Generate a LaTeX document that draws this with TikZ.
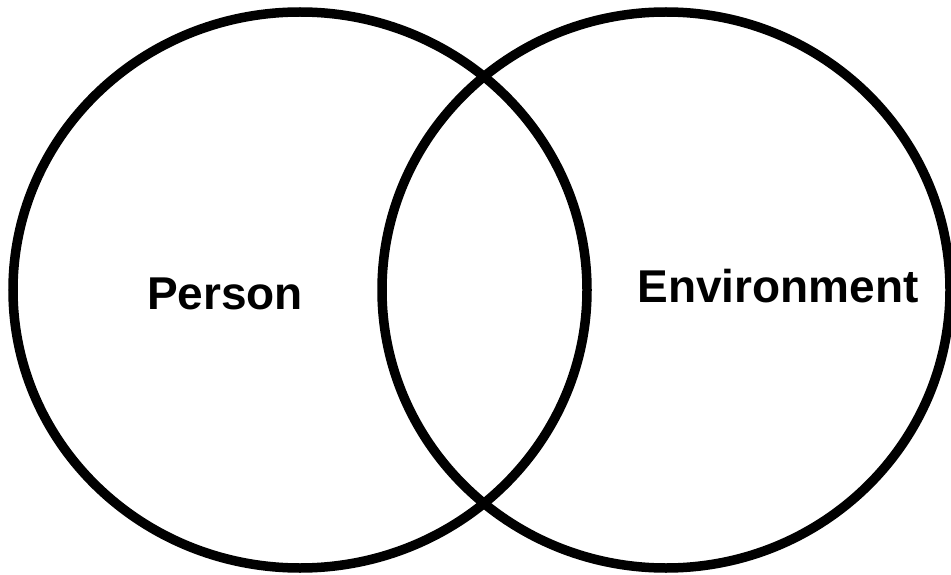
\documentclass[tikz,border=0pt]{standalone}
\usepackage{fontspec}
\setmainfont{Liberation Sans}
\begin{document}
\begin{tikzpicture}[x=1pt,y=-1pt,
  ring/.style={draw=black,line width=9.5pt},
  lbl/.style={font=\fontsize{46}{50}\selectfont\bfseries,inner sep=0pt,anchor=base}]
\useasboundingbox (0,0) rectangle (951,575);
\fill[white] (0,0) rectangle (951,575);
\draw[ring] (300,290) ellipse [x radius=287, y radius=278];
\draw[ring] (666,290) ellipse [x radius=284, y radius=278];
\node[lbl] (person) at (225,309) {Person};
\node[lbl] (env) at (778,302) {Environment};
\end{tikzpicture}
\end{document}
